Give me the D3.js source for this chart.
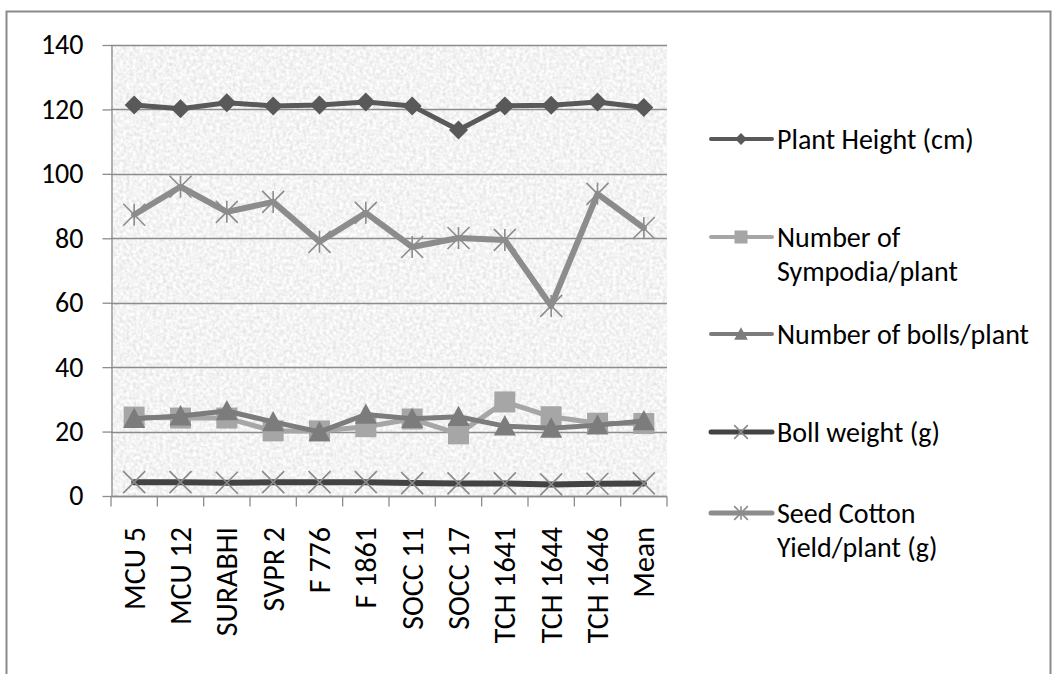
<!DOCTYPE html>
<html><head><meta charset="utf-8">
<script src="https://cdn.jsdelivr.net/npm/d3@7"></script>
<style>body{margin:0;background:#fff}text{font-family:Carlito,Lato,"Liberation Sans",sans-serif}</style>
</head><body><svg id="c" width="1059" height="674"></svg>
<script>
const categories = ["MCU 5","MCU 12","SURABHI","SVPR 2","F 776","F 1861","SOCC 11","SOCC 17","TCH 1641","TCH 1644","TCH 1646","Mean"];
const plantHeight = [121.4,120.2,122.1,121.1,121.4,122.3,121.1,113.6,121.1,121.3,122.3,120.6];
const sympodia    = [24.5,24.2,24.2,20.2,20.2,21.5,23.9,19.3,29.2,24.6,22.6,22.5];
const bolls       = [24.0,24.8,26.4,23.0,19.9,25.3,24.0,24.6,21.7,21.0,22.0,23.3];
const bollWeight  = [4.3,4.3,4.1,4.3,4.3,4.3,4.0,3.9,3.9,3.6,3.8,3.9];
const seedYield   = [87.3,96.0,88.2,91.3,78.9,87.9,77.3,80.1,79.5,59.0,93.8,83.2];
const yTicks = [0,20,40,60,80,100,120,140];
const seriesNames = ["Plant Height (cm)",["Number of","Sympodia/plant"],"Number of bolls/plant","Boll weight (g)",["Seed Cotton","Yield/plant (g)"]];

const svg = d3.select("#c");
const L=111,R=667,T=45,B=496;
const x = d3.scaleBand().domain(categories).range([L,R]);
const y = d3.scaleLinear().domain([0,140]).range([B,T]);

// outer border
svg.append("rect").attr("x",6.5).attr("y",11.5).attr("width",1044).attr("height",690)
  .attr("fill","#fff").attr("stroke","#8a8a8a").attr("stroke-width",2);

// texture
const defs = svg.append("defs");
const f = defs.append("filter").attr("id","noise").attr("x",0).attr("y",0).attr("width","100%").attr("height","100%");
f.append("feTurbulence").attr("type","fractalNoise").attr("baseFrequency","0.3").attr("numOctaves",2).attr("seed",3).attr("result","n");
f.append("feColorMatrix").attr("in","n").attr("type","matrix")
  .attr("values","0.4 0 0 0 0.7  0.4 0 0 0 0.7  0.4 0 0 0 0.7  0 0 0 0 1");
svg.append("rect").attr("x",L).attr("y",T).attr("width",R-L).attr("height",B-T).attr("filter","url(#noise)");

// gridlines
svg.append("g").selectAll("line").data(yTicks).join("line")
  .attr("x1",L).attr("x2",R).attr("y1",d=>Math.round(y(d))+0.5).attr("y2",d=>Math.round(y(d))+0.5)
  .attr("stroke","#8c8c8c").attr("stroke-width",1.3);

// y axis
const ya = svg.append("g").attr("transform",`translate(${L+0.5},0)`)
  .call(d3.axisLeft(y).tickValues(yTicks).tickSize(9).tickPadding(19).tickSizeOuter(0));
ya.select(".domain").attr("stroke","#8c8c8c").attr("stroke-width",1.3);
ya.selectAll(".tick line").attr("stroke","#8c8c8c").attr("stroke-width",1.3);
ya.selectAll("text").attr("font-size",28).attr("fill","#000").attr("font-family","Carlito,Lato,sans-serif");

// x axis
const xa = svg.append("g").attr("transform",`translate(0,${B+0.5})`)
  .call(d3.axisBottom(x).tickSize(0).tickFormat(""));
xa.select(".domain").remove();
const bounds = categories.map(c=>x(c)).concat([R]);
xa.selectAll("line.b").data(bounds).join("line").attr("class","b")
  .attr("x1",d=>d).attr("x2",d=>d).attr("y1",0).attr("y2",10).attr("stroke","#8c8c8c").attr("stroke-width",1.3);
xa.append("line").attr("x1",L).attr("x2",R).attr("stroke","#8c8c8c").attr("stroke-width",1.3);
svg.append("g").selectAll("text").data(categories).join("text")
  .attr("transform",d=>`translate(${x(d)+x.bandwidth()/2},527) rotate(-90)`)
  .attr("text-anchor","end").attr("dy","0.35em").attr("font-size",30).attr("fill","#000").text(d=>d);

// marker symbols
function marker(g, type, size, color){
  const s=size/2;
  if(type==="diamond") g.append("path").attr("d",`M0,${-s}L${s},0L0,${s}L${-s},0Z`).attr("fill",color);
  else if(type==="square") g.append("rect").attr("x",-s).attr("y",-s).attr("width",size).attr("height",size).attr("fill",color);
  else if(type==="triangle") g.append("path").attr("d",`M0,${-s}L${s},${s*0.85}L${-s},${s*0.85}Z`).attr("fill",color);
  else if(type==="x") g.append("path").attr("d",`M${-s},${-s}L${s},${s}M${-s},${s}L${s},${-s}`).attr("stroke",color).attr("stroke-width",1.6);
  else if(type==="star") g.append("path").attr("d",`M${-s},${-s}L${s},${s}M${-s},${s}L${s},${-s}M0,${-s}L0,${s}`).attr("stroke",color).attr("stroke-width",1.6);
}

const series = [
  {vals:plantHeight, line:"#595959", w:5, m:"diamond", mc:"#595959", ms:19},
  {vals:sympodia, line:"#a6a6a6", w:5, m:"square", mc:"#a6a6a6", ms:21},
  {vals:bolls, line:"#7c7c7c", w:5, m:"triangle", mc:"#7c7c7c", ms:22},
  {vals:bollWeight, line:"#434343", w:6, m:"x", mc:"#8a8a8a", ms:22},
  {vals:seedYield, line:"#8c8c8c", w:6, m:"star", mc:"#8c8c8c", ms:22}
];
const line = d3.line().x((d,i)=>x(categories[i])+x.bandwidth()/2).y(d=>y(d));
series.forEach(s=>{
  svg.append("path").attr("d",line(s.vals)).attr("fill","none").attr("stroke",s.line)
    .attr("stroke-width",s.w).attr("stroke-linejoin","round").attr("stroke-linecap","round");
  s.vals.forEach((v,i)=>{
    const g=svg.append("g").attr("transform",`translate(${x(categories[i])+x.bandwidth()/2},${y(v)})`);
    marker(g,s.m,s.ms,s.mc);
  });
});

// legend
const legY = [139,237,334,432,513];
series.forEach((s,i)=>{
  const g = svg.append("g").attr("transform",`translate(0,${legY[i]})`);
  g.append("line").attr("x1",711).attr("x2",772).attr("stroke",s.line).attr("stroke-width",s.w-1).attr("stroke-linecap","round");
  const mg=g.append("g").attr("transform","translate(741,0)");
  marker(mg,s.m,s.ms*0.62,s.mc);
  const lines = Array.isArray(seriesNames[i])?seriesNames[i]:[seriesNames[i]];
  const t=g.append("text").attr("x",777).attr("font-size",28).attr("fill","#000");
  lines.forEach((l,j)=>t.append("tspan").attr("x",777).attr("y",j*34).attr("dy","0.35em").text(l));
});
</script></body></html>
